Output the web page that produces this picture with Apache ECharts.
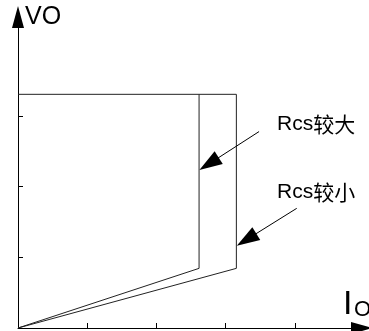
<!DOCTYPE html>
<html><head><meta charset="utf-8">
<script src="https://cdn.jsdelivr.net/npm/echarts@6/dist/echarts.min.js"></script>
<style>html,body{margin:0;padding:0;background:#fff}#c{width:369px;height:331px}</style>
</head><body><div id="c"></div>
<script>
const xTicks = [1, 2, 3, 4];
const yTicks = [1, 2, 3];
const xMax = 4.97, yMax = 4.40;
const seriesNames = ['Rcs较大', 'Rcs较小'];
const largeRcs = [[0, 0], [2.616, 0.844], [2.616, 3.306]];
const smallRcs = [[0, 0], [3.155, 0.844], [3.155, 3.306], [0, 3.306]];
const labelPos = [[3.743, 2.885], [3.743, 1.917]];
const arrowStart = [[3.483, 2.779], [4.027, 1.693]];
const arrowEnd = [[2.760, 2.323], [3.302, 1.250]];
const yName = 'VO';
const xName = ['I', 'O'];

const chart = echarts.init(document.getElementById('c'), null, {renderer: 'canvas'});
const richLabel = {
  a: {fontFamily: 'Liberation Sans', fontSize: 21, color: '#000', lineHeight: 24},
  b: {fontFamily: 'Noto Sans CJK SC', fontSize: 21, color: '#000', lineHeight: 24}
};
function mkSeries(i, data) {
  return {
    type: 'line', name: seriesNames[i], data: data, symbol: 'none', animation: false,
    lineStyle: {color: '#222', width: 1}, itemStyle: {color: '#222'},
    markLine: {
      silent: true, animation: false, symbol: ['none', 'triangle'], symbolSize: [15, 23],
      lineStyle: {color: '#000', width: 1, type: 'solid'}, itemStyle: {color: '#000'},
      label: {show: false}, emphasis: {disabled: true},
      data: [[{coord: arrowStart[i]}, {coord: arrowEnd[i]}]]
    },
    markPoint: {
      silent: true, animation: false, symbol: 'circle', symbolSize: 0,
      label: {
        show: true, position: 'right', distance: 0,
        fontFamily: 'Liberation Sans', fontSize: 21, color: '#000',
        formatter: function (p) { return '{a|' + p.name.slice(0, 3) + '}{b|' + p.name.slice(3) + '}'; },
        rich: richLabel
      },
      data: [{name: seriesNames[i], coord: labelPos[i]}]
    }
  };
}
chart.setOption({
  animation: false,
  backgroundColor: '#fff',
  grid: {left: 18, right: 7, top: 17, bottom: 3, containLabel: false},
  xAxis: {
    type: 'value', min: 0, max: xMax, interval: 1,
    axisLine: {show: true, onZero: false, symbol: ['none', 'triangle'], symbolSize: [12, 22], lineStyle: {color: '#000', width: 1}},
    axisTick: {show: true, inside: true, length: 5, customValues: xTicks, lineStyle: {color: '#000'}},
    axisLabel: {show: false}, splitLine: {show: false}
  },
  yAxis: {
    type: 'value', min: 0, max: yMax, interval: 1,
    axisLine: {show: true, onZero: false, symbol: ['none', 'triangle'], symbolSize: [12, 22], lineStyle: {color: '#000', width: 1}},
    axisTick: {show: true, inside: true, length: 5, customValues: yTicks, lineStyle: {color: '#000'}},
    axisLabel: {show: false}, splitLine: {show: false}
  },
  series: [mkSeries(0, largeRcs), mkSeries(1, smallRcs)],
  graphic: [
    {type: 'text', left: 25, top: 5, style: {text: yName, font: '25px "Liberation Sans"', fill: '#000'}},
    {type: 'text', left: 343, top: 288, style: {text: xName[0], font: '34px "Liberation Sans"', fill: '#000'}},
    {type: 'text', left: 354, top: 299, style: {text: xName[1], font: '22px "Liberation Sans"', fill: '#000'}}
  ]
});
</script>
</body></html>
